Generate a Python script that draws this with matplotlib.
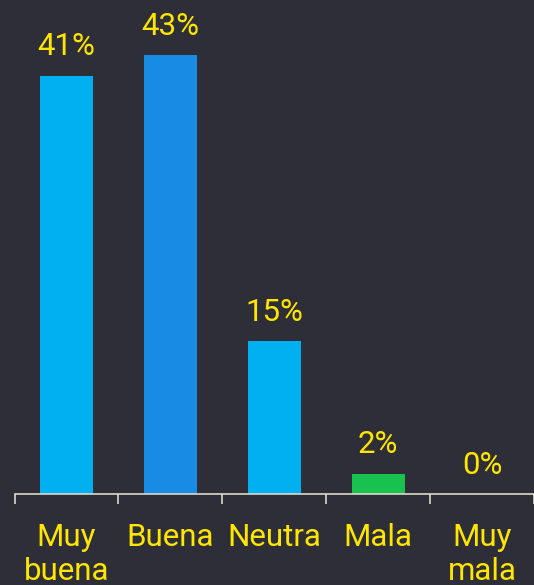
import matplotlib.pyplot as plt

# survey answers and their share (%)
categories = ["Muy\nbuena", "Buena", "Neutra", "Mala", "Muy\nmala"]
values = [41, 43, 15, 2, 0]
bar_colors = ["#00b0f0", "#188ce5", "#00b0f0", "#19c24f", "#19c24f"]

BG = "#2e2e38"
YELLOW = "#ffe600"
AXIS = "#dcd9cc"

plt.rcParams["font.family"] = ["Roboto", "DejaVu Sans"]

fig = plt.figure(figsize=(5.34, 5.85), dpi=100, facecolor=BG)
ax = fig.add_axes([14.5 / 534, 91 / 585, 1 - 14.5 / 534, 494 / 585])
ax.set_facecolor(BG)

x = list(range(len(categories)))
bars = ax.bar(x, values, width=0.51, color=bar_colors)

for xi, v in zip(x, values):
    ax.annotate(f"{v}%", (xi, v), xytext=(0, 14.5), textcoords="offset points",
                ha="center", va="baseline", color=YELLOW, fontsize=22.5)

ax.set_xlim(-0.5, 4.5)
ax.set_ylim(0, 48.4)

# boundary ticks, labels at the centers
ax.set_xticks([i - 0.5 for i in range(len(categories) + 1)])
ax.set_xticklabels([])
ax.tick_params(axis="x", which="major", length=7.5, width=1.2, color=AXIS, direction="out")
ax.set_xticks(x, minor=True)
ax.set_xticklabels(categories, minor=True, color=YELLOW, fontsize=22.5, linespacing=1.2)
ax.tick_params(axis="x", which="minor", length=0, pad=21)
ax.set_yticks([])

for side in ["top", "right", "left"]:
    ax.spines[side].set_visible(False)
ax.spines["bottom"].set_color(AXIS)
ax.spines["bottom"].set_linewidth(1.2)

fig.savefig("out.png", dpi=100, facecolor=BG)
